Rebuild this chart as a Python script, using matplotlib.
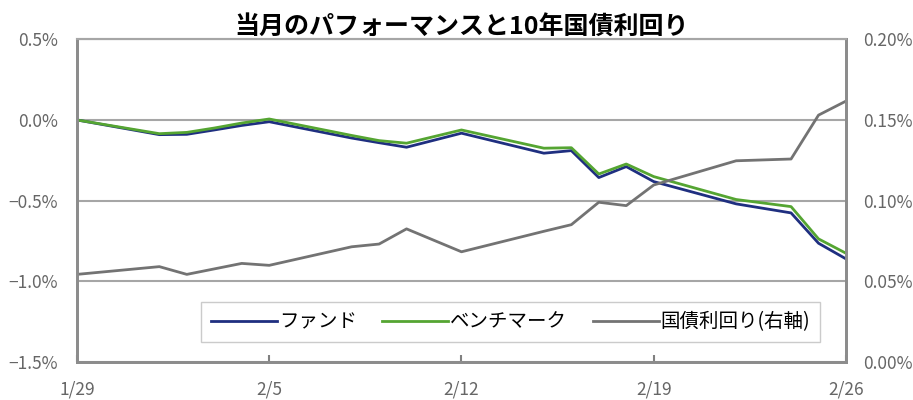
import datetime as dt
import matplotlib
matplotlib.use("Agg")
import matplotlib.pyplot as plt
from matplotlib.ticker import FuncFormatter, FixedLocator

plt.rcParams['font.family'] = ['Noto Sans CJK JP', 'DejaVu Sans']

# 営業日 (2021年)
dates = ["2021-01-29", "2021-02-01", "2021-02-02", "2021-02-03", "2021-02-04",
         "2021-02-05", "2021-02-08", "2021-02-09", "2021-02-10", "2021-02-12",
         "2021-02-15", "2021-02-16", "2021-02-17", "2021-02-18", "2021-02-19",
         "2021-02-22", "2021-02-24", "2021-02-25", "2021-02-26"]

# 累積リターン (%)
fund = [0.000, -0.091, -0.089, -0.062, -0.034, -0.011, -0.112, -0.141, -0.169,
        -0.082, -0.206, -0.190, -0.357, -0.289, -0.382, -0.520, -0.576, -0.764, -0.861]
bench = [0.000, -0.085, -0.077, -0.050, -0.019, 0.006, -0.096, -0.128, -0.144,
         -0.062, -0.175, -0.172, -0.335, -0.273, -0.351, -0.493, -0.537, -0.737, -0.826]

# 10年国債利回り (%)
jgb = [0.0543, 0.0591, 0.0543, 0.0577, 0.0611, 0.0599, 0.0714, 0.0731, 0.0825,
       0.0683, 0.0810, 0.0851, 0.0990, 0.0969, 0.1097, 0.1247, 0.1258, 0.1530, 0.1617]

tick_dates = ["2021-01-29", "2021-02-05", "2021-02-12", "2021-02-19", "2021-02-26"]
tick_labels = ["1/29", "2/5", "2/12", "2/19", "2/26"]

x = [dt.datetime.strptime(d, "%Y-%m-%d") for d in dates]
xt = [dt.datetime.strptime(d, "%Y-%m-%d") for d in tick_dates]

fig = plt.figure(figsize=(9.13, 4.0), dpi=100)
ax = fig.add_axes([0.0843, 0.095, 0.8423, 0.8068])
ax2 = ax.twinx()

l1, = ax.plot(x, fund, color="#1f2f80", lw=2.0, label="ファンド", zorder=3)
l2, = ax.plot(x, bench, color="#55a532", lw=2.0, label="ベンチマーク", zorder=3)
l3, = ax2.plot(x, jgb, color="#737373", lw=2.0, label="国債利回り(右軸)")

ax.set_xlim(x[0], x[-1])
ax.set_ylim(-1.5, 0.5)
ax2.set_ylim(0.0, 0.2)

ax.set_yticks([-1.5, -1.0, -0.5, 0.0, 0.5])
ax2.set_yticks([0.0, 0.05, 0.10, 0.15, 0.20])
ax.yaxis.set_major_formatter(FuncFormatter(lambda v, p: f"{v:.1f}%".replace("-", "\u2212")))
ax2.yaxis.set_major_formatter(FuncFormatter(lambda v, p: f"{v:.2f}%"))

ax.xaxis.set_major_locator(FixedLocator(matplotlib.dates.date2num(xt)))
ax.set_xticklabels(tick_labels)

grid_c = "#a6a6a6"
ax.yaxis.grid(True, color=grid_c, lw=1.5)
ax.set_axisbelow(True)

tick_c = "#666666"
ax.tick_params(axis="y", length=0, pad=13.5, labelsize=12.5, labelcolor=tick_c)
ax2.tick_params(axis="y", length=0, pad=12, labelsize=12.5, labelcolor=tick_c)
ax.tick_params(axis="x", direction="in", length=5, width=1.5, color="#808080",
               pad=13, labelsize=12.5, labelcolor=tick_c)

for a in (ax, ax2):
    for side in ("left", "right", "bottom"):
        a.spines[side].set_color("#8c8c8c")
        a.spines[side].set_linewidth(2.0)
    a.spines["top"].set_color(grid_c)
    a.spines["top"].set_linewidth(1.5)

ax.set_title("当月のパフォーマンスと10年国債利回り", fontsize=18, fontweight="bold",
             color="black", pad=3)

leg = ax2.legend(handles=[l1, l2, l3], loc="center", bbox_to_anchor=(0.564, 0.124),
                 ncol=3, fontsize=14, frameon=True, fancybox=False,
                 edgecolor="#bfbfbf", handlelength=3.4, handletextpad=0.1,
                 columnspacing=1.3, borderpad=0.5)
leg.get_frame().set_linewidth(1.0)

fig.savefig("out.png", dpi=100)
